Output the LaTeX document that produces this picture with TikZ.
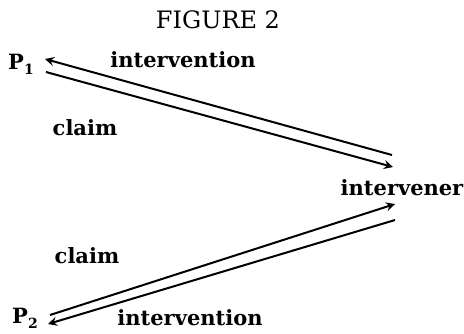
\documentclass[tikz,border=0pt]{standalone}
\usepackage{fontspec}
\setmainfont{DejaVu Serif}
\usetikzlibrary{arrows}
\tikzstyle{party} = [font=\bfseries\fontsize{10.5}{12}\selectfont, inner sep=0pt]
\tikzstyle{word} = [font=\bfseries\fontsize{10.5}{12}\selectfont, inner sep=0pt]
\tikzstyle{heading} = [font=\fontsize{12}{14}\selectfont, inner sep=0pt]
\tikzstyle{arrow} = [line width=1pt,->,>=stealth]
\newcommand{\sub}[1]{\raisebox{-0.45ex}{\fontsize{7}{8}\selectfont #1}}

\begin{document}
\begin{tikzpicture}[x=0.5pt,y=-0.5pt]
\useasboundingbox (0,0) rectangle (464,333);
\node (title) [heading] at (218,20) {FIGURE 2};
\node (pone) [party] at (21,64) {P\sub{1}};
\node (ptwo) [party] at (25,318) {P\sub{2}};
\node (mid) [word] at (402,188) {intervener};
\node (intone) [word] at (183,60) {intervention};
\node (claimone) [word] at (85,128) {claim};
\node (claimtwo) [word] at (87,256) {claim};
\node (inttwo) [word] at (190,318) {intervention};
% upper pair
\draw[arrow] ([shift={(-10,-33)}]mid.center) -- ([shift={(24,-5)}]pone.center);
\draw[arrow] ([shift={(25,8)}]pone.center) -- ([shift={(-9,-21)}]mid.center);
% lower pair
\draw[arrow] ([shift={(25,-3)}]ptwo.center) -- ([shift={(-7,16)}]mid.center);
\draw[arrow] ([shift={(-7,32)}]mid.center) -- ([shift={(23,6)}]ptwo.center);
\end{tikzpicture}
\end{document}
